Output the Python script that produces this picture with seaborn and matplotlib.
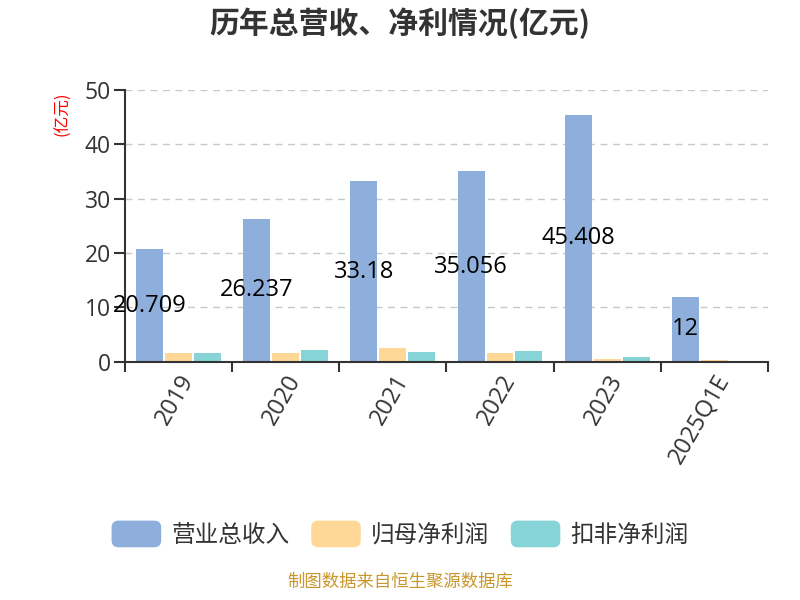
import matplotlib
matplotlib.use("Agg")
import matplotlib.pyplot as plt
import seaborn as sns
import pandas as pd
from matplotlib.patches import FancyBboxPatch, Patch
from matplotlib.legend_handler import HandlerPatch
from matplotlib.ticker import FixedLocator

categories = ["2019", "2020", "2021", "2022", "2023", "2025Q1E"]
revenue = [20.709, 26.237, 33.18, 35.056, 45.408, 12]
revenue_labels = ["20.709", "26.237", "33.18", "35.056", "45.408", "12"]
net_profit = [1.53, 1.60, 2.45, 1.53, 0.45, 0.25]
deducted_profit = [1.71, 2.26, 1.78, 1.90, 0.80, 0.20]
series_names = ["营业总收入", "归母净利润", "扣非净利润"]
colors = ["#8eaedb", "#ffd898", "#86d4d8"]

rows = []
for name, vals in zip(series_names, [revenue, net_profit, deducted_profit]):
    for c, v in zip(categories, vals):
        rows.append({"year": c, "series": name, "value": v})
df = pd.DataFrame(rows)

sns.set_theme(style="white")
plt.rcParams["font.family"] = ["Open Sans", "Noto Sans CJK SC", "DejaVu Sans"]
CJK = ["Noto Sans CJK SC", "DejaVu Sans"]

fig = plt.figure(figsize=(8, 6), dpi=100)
ax = fig.add_axes([0.156, 0.397, 0.804, 0.453])

sns.barplot(data=df, x="year", y="value", hue="series", order=categories,
            hue_order=series_names, palette=colors, width=0.81, gap=0.07, ax=ax,
            edgecolor="none", linewidth=0, saturation=1, legend=False)

ax.set_xlim(-0.5, len(categories) - 0.5)
ax.set_ylim(0, 50)
ax.set_yticks([0, 10, 20, 30, 40, 50])
ax.yaxis.grid(True, linestyle=(0, (5, 4)), color="#c8c8c8", linewidth=1)
ax.set_axisbelow(True)
for s in ["top", "right"]:
    ax.spines[s].set_visible(False)
for s in ["left", "bottom"]:
    ax.spines[s].set_color("#333333")
    ax.spines[s].set_linewidth(1.5)

ax.tick_params(axis="y", length=8, width=1.5, color="#333333", labelsize=16.5,
               labelcolor="#333333", pad=2, left=True)
ax.tick_params(axis="x", which="major", length=0, labelsize=17,
               labelcolor="#333333", pad=6)
ax.xaxis.set_minor_locator(FixedLocator([i - 0.5 for i in range(len(categories) + 1)]))
ax.tick_params(axis="x", which="minor", length=7, width=1.5, color="#333333", bottom=True)
for lab in ax.get_xticklabels():
    lab.set_rotation(60)
    lab.set_ha("right")
    lab.set_va("top")
    lab.set_rotation_mode("anchor")

ax.set_xlabel("")
ax.set_ylabel("")

revenue_bars = ax.containers[0]
for bar, lbl in zip(revenue_bars, revenue_labels):
    x = bar.get_x() + bar.get_width() / 2
    y = bar.get_height() / 2
    ax.text(x, y, lbl, ha="center", va="center", fontsize=17, color="black")

fig.text(0.5, 0.962, "历年总营收、净利情况(亿元)", ha="center", va="center",
         fontsize=21.5, fontweight="bold", color="#333333", family=CJK)
fig.text(0.079, 0.81, "(亿元)", rotation=90, ha="center", va="center",
         fontsize=12, color="red", family=CJK)
fig.text(0.5, 0.015, "制图数据来自恒生聚源数据库", ha="center", va="bottom",
         fontsize=12.5, color="#c8962a", family=CJK)


class RoundHandler(HandlerPatch):
    def create_artists(self, legend, orig_handle, xdescent, ydescent, width,
                       height, fontsize, trans):
        p = FancyBboxPatch((-xdescent, -ydescent - 2), width, height + 4,
                           boxstyle="round,pad=0,rounding_size=5",
                           facecolor=orig_handle.get_facecolor(),
                           edgecolor="none", transform=trans)
        return [p]


handles = [Patch(facecolor=c, label=n) for c, n in zip(colors, series_names)]
leg = fig.legend(handles=handles, loc="center", bbox_to_anchor=(0.5, 0.108), ncol=3,
                 frameon=False, handlelength=2.1, handleheight=1.0,
                 handletextpad=0.42, columnspacing=0.93, labelcolor="#333333",
                 prop={"family": CJK, "size": 17},
                 handler_map={Patch: RoundHandler()})

fig.savefig("out.png", dpi=100)
